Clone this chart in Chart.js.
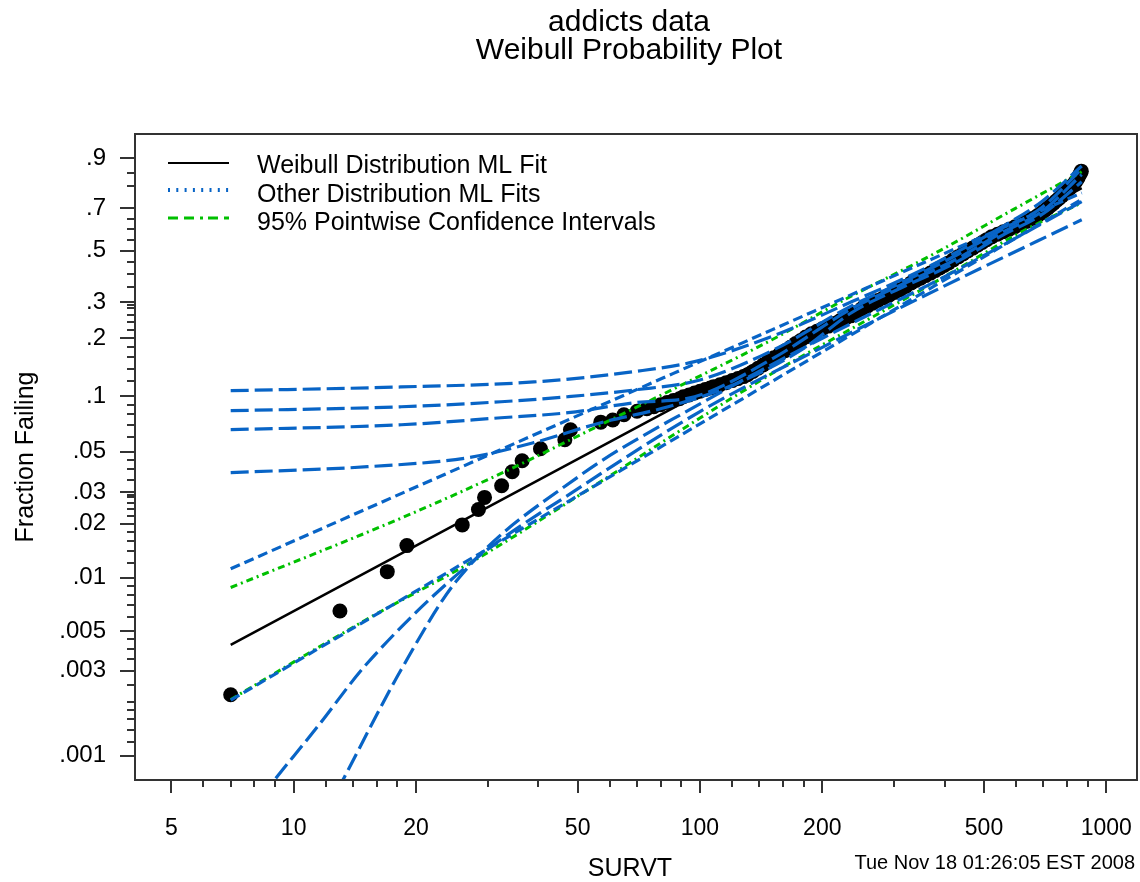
<!DOCTYPE html>
<html>
<head>
<meta charset="utf-8">
<script src="https://cdn.jsdelivr.net/npm/chart.js@4.4.1/dist/chart.umd.min.js"></script>
<style>
  html, body { margin: 0; padding: 0; background: #ffffff; }
  #wrap { width: 1140px; height: 882px; }
</style>
</head>
<body>
<div id="wrap"><canvas id="c" width="1140" height="882"></canvas></div>
<script>
// ---------------- texts ----------------
const titleLines = ['addicts data', 'Weibull Probability Plot'];
const xTitle = 'SURVT';
const yTitle = 'Fraction Failing';
const stamp = 'Tue Nov 18 01:26:05 EST 2008';
const legendLabels = ['Weibull Distribution ML Fit', 'Other Distribution ML Fits', '95% Pointwise Confidence Intervals'];

// ---------------- axes ----------------
const xMajor = [5, 10, 20, 50, 100, 200, 500, 1000];
const xTickLabels = ['5', '10', '20', '50', '100', '200', '500', '1000'];
const xMinor = [6, 7, 8, 9, 12, 14, 16, 18, 30, 40, 60, 70, 80, 90, 120, 140, 160, 180, 300, 400, 600, 700, 800, 900];
const yMajor = [0.001, 0.003, 0.005, 0.01, 0.02, 0.03, 0.05, 0.1, 0.2, 0.3, 0.5, 0.7, 0.9];
const yTickLabels = ['.001', '.003', '.005', '.01', '.02', '.03', '.05', '.1', '.2', '.3', '.5', '.7', '.9'];
const yMinor = [0.0012, 0.0014, 0.0016, 0.0018, 0.002, 0.0025, 0.0035, 0.004, 0.0045,
  0.006, 0.007, 0.008, 0.009, 0.012, 0.014, 0.016, 0.018, 0.022, 0.024, 0.026, 0.028, 0.029,
  0.035, 0.04, 0.045, 0.06, 0.07, 0.08, 0.09, 0.12, 0.14, 0.16, 0.18, 0.22, 0.24, 0.26, 0.28, 0.29,
  0.35, 0.4, 0.45, 0.55, 0.6, 0.65, 0.8, 0.85];
const xMin = 4.07, xMax = 1190;
const yMin = 0.00073, yMax = 0.957;

// ---------------- data: failure times and fraction failing ----------------
const failT = [7, 13, 17, 19, 26, 28.5, 29.5, 32.5, 34.5, 36.5, 40.5, 46.5, 48, 57, 61, 65, 70,
  74, 77, 80, 83, 86, 89, 91, 94, 97, 100, 103, 106, 108, 112, 116, 120, 124, 128, 131,
  135, 139, 143, 147, 152, 157, 162, 167, 172, 177, 182, 188, 194, 200, 207, 214, 221, 228, 235, 242, 250,
  258, 266, 274, 283, 292, 301, 311, 321, 331, 340, 349, 359, 369, 379, 389, 399, 409,
  420, 432, 444, 456, 469, 482, 495, 508, 522, 540, 558, 577, 596, 616, 636, 657, 678, 693,
  705, 717, 729, 741, 753, 765, 777, 789, 801, 813, 825, 836, 845, 852, 858, 864, 868];
const failP = [0.0022, 0.0065, 0.0108, 0.0151, 0.0197, 0.024, 0.028, 0.0325, 0.0388, 0.0446, 0.0519, 0.0582, 0.0659, 0.0725, 0.0745, 0.0795, 0.083,
  0.0856, 0.0878, 0.0900, 0.0925, 0.0948, 0.0970, 0.0993, 0.1015, 0.1040, 0.1062, 0.1085, 0.1105, 0.1123, 0.1150, 0.1180, 0.1210, 0.1240, 0.1270, 0.1299,
  0.1350, 0.1405, 0.1460, 0.1520, 0.1590, 0.1660, 0.1730, 0.1800, 0.1880, 0.1950, 0.2030, 0.2106, 0.2170, 0.2230, 0.2300, 0.2370, 0.2440, 0.2510, 0.2580, 0.2680, 0.2790,
  0.2870, 0.2960, 0.3050, 0.3140, 0.3230, 0.3320, 0.3420, 0.3540, 0.3670, 0.3760, 0.3850, 0.3950, 0.4050, 0.4150, 0.4260, 0.4360, 0.4470,
  0.460, 0.473, 0.486, 0.499, 0.512, 0.525, 0.538, 0.551, 0.564, 0.576, 0.588, 0.600, 0.612, 0.624, 0.637, 0.651, 0.665, 0.678,
  0.689, 0.700, 0.711, 0.722, 0.734, 0.745, 0.756, 0.767, 0.778, 0.790, 0.801, 0.812, 0.822, 0.832, 0.842, 0.850, 0.857];

// Weibull ML fit
const fitT = [7, 100, 870];
const fitP = [0.0042, 0.1033, 0.79];

// 95% pointwise confidence intervals
const ciUpT = [7, 18.4, 32.4, 57, 97, 150, 227, 378, 596, 870];
const ciUpP = [0.0088, 0.0215, 0.0380, 0.0702, 0.124, 0.196, 0.308, 0.488, 0.698, 0.855];
const ciLoT = [7, 15, 28, 50, 100, 156, 250, 400, 629, 870];
const ciLoP = [0.00207, 0.00577, 0.01257, 0.0284, 0.0763, 0.138, 0.238, 0.391, 0.595, 0.725];

// other distribution ML fits
const otherA_T = [7, 18.4, 39, 69, 97, 152, 236, 313, 416, 552, 693, 870];
const otherA_P = [0.107, 0.112, 0.119, 0.135, 0.152, 0.206, 0.301, 0.379, 0.482, 0.61, 0.73, 0.875];
const otherB_T = [7, 18.4, 32.4, 47.4, 69, 100, 152, 236, 313, 416, 552, 693, 870];
const otherB_P = [0.0836, 0.0878, 0.0934, 0.0994, 0.108, 0.122, 0.175, 0.288, 0.368, 0.469, 0.597, 0.702, 0.865];
const otherC_T = [7, 18.4, 32.4, 47.4, 69, 97, 152, 236, 313, 416, 552, 693, 870];
const otherC_P = [0.066, 0.0702, 0.0766, 0.0816, 0.0923, 0.0994, 0.159, 0.279, 0.360, 0.452, 0.583, 0.683, 0.844];
const otherD_T = [7, 15.2, 26.9, 39, 57, 83.5, 121, 178, 236, 313, 416, 552, 693, 870];
const otherD_P = [0.0384, 0.0414, 0.0464, 0.0561, 0.0720, 0.0878, 0.115, 0.175, 0.267, 0.349, 0.439, 0.569, 0.669, 0.816];
const otherE_T = [7, 100, 870];
const otherE_P = [0.0112, 0.152, 0.77];
const otherF_T = [7, 100, 870];
const otherF_P = [0.00205, 0.071, 0.741];
const otherG_T = [7, 9.05, 11.46, 15.2, 27.9, 50, 100, 200, 400, 870];
const otherG_P = [0.00036, 0.00075, 0.00146, 0.00332, 0.0126, 0.0312, 0.0827, 0.180, 0.356, 0.645];
const otherH_T = [12, 13.3, 18.4, 25.3, 50, 100, 200, 400, 870];
const otherH_P = [0.00048, 0.00075, 0.00305, 0.00973, 0.0362, 0.091, 0.200, 0.391, 0.73];

// ---------------- styling ----------------
const FONT = "'Liberation Sans', Arial, Helvetica, sans-serif";
const BLUE = '#0864c6';
const GREEN = '#00c000';
const AXIS = '#333333';

Chart.defaults.font.family = FONT;
Chart.defaults.color = '#000000';

// Weibull probability scale: position = log(-log(1 - p))
const weib = p => Math.log(-Math.log(1 - p));
class WeibullScale extends Chart.Scale {
  static id = 'weibull';
  static defaults = {};
  parse(raw) { return (raw === null || raw === undefined) ? NaN : +raw; }
  determineDataLimits() { this.min = this.options.min; this.max = this.options.max; }
  buildTicks() { return yMajor.map(v => ({ value: v })); }
  getLabelForValue(v) { return String(v); }
  configure() {
    super.configure();
    this._wStart = weib(this.min);
    this._wRange = weib(this.max) - this._wStart;
  }
  getPixelForValue(v) { return this.getPixelForDecimal((weib(v) - this._wStart) / this._wRange); }
  getValueForPixel(px) {
    const w = this._wStart + this.getDecimalForPixel(px) * this._wRange;
    return 1 - Math.exp(-Math.exp(w));
  }
}
Chart.register(WeibullScale);

const pairs = (t, p) => t.map((v, i) => ({ x: v, y: p[i] }));

const blueLine = (t, p, dash) => ({
  data: pairs(t, p), showLine: true, pointRadius: 0, borderColor: BLUE, borderWidth: 3.2,
  borderDash: dash, cubicInterpolationMode: 'monotone', fill: false, order: 1
});
const greenLine = (t, p) => ({
  data: pairs(t, p), showLine: true, pointRadius: 0, borderColor: GREEN, borderWidth: 3,
  borderDash: [7, 4, 2, 4], cubicInterpolationMode: 'monotone', fill: false, order: 2
});

const datasets = [
  { data: pairs(failT, failP), showLine: false, pointRadius: 7.5, pointHoverRadius: 7.5,
    pointBackgroundColor: '#000', pointBorderColor: '#000', pointBorderWidth: 0, order: 4 },
  { data: pairs(fitT, fitP), showLine: true, pointRadius: 0, borderColor: '#000', borderWidth: 2.5, fill: false, order: 3 },
  greenLine(ciUpT, ciUpP),
  greenLine(ciLoT, ciLoP),
  blueLine(otherA_T, otherA_P, [18, 6]),
  blueLine(otherB_T, otherB_P, [18, 6]),
  blueLine(otherC_T, otherC_P, [18, 6]),
  blueLine(otherD_T, otherD_P, [18, 6]),
  blueLine(otherE_T, otherE_P, [10, 5]),
  blueLine(otherF_T, otherF_P, [10, 5]),
  blueLine(otherG_T, otherG_P, [18, 6]),
  blueLine(otherH_T, otherH_P, [18, 6])
];

const decor = {
  id: 'decor',
  afterDraw(chart) {
    const { ctx, chartArea: ca } = chart;
    const x = chart.scales.x, y = chart.scales.y;
    ctx.save();
    // minor ticks
    ctx.strokeStyle = AXIS; ctx.lineWidth = 2; ctx.setLineDash([]);
    ctx.beginPath();
    yMinor.forEach(p => { const py = Math.round(y.getPixelForValue(p)); ctx.moveTo(ca.left - 8, py); ctx.lineTo(ca.left, py); });
    xMinor.forEach(v => { const px = Math.round(x.getPixelForValue(v)); ctx.moveTo(px, ca.bottom); ctx.lineTo(px, ca.bottom + 7); });
    ctx.stroke();
    // frame
    ctx.strokeRect(ca.left, ca.top, ca.right - ca.left, ca.bottom - ca.top);

    ctx.fillStyle = '#000';
    // title
    ctx.textAlign = 'center'; ctx.textBaseline = 'alphabetic';
    ctx.font = `30px ${FONT}`;
    ctx.fillText(titleLines[0], 629, 31);
    ctx.fillText(titleLines[1], 629, 59);

    // legend
    const items = [
      { ly: 163, ty: 173, color: '#000', w: 2, dash: [] },
      { ly: 190, ty: 201.5, color: BLUE, w: 4, dash: [2, 6.3] },
      { ly: 218, ty: 230, color: GREEN, w: 3, dash: [10, 6, 10, 6, 3, 5] }
    ];
    ctx.font = `25px ${FONT}`; ctx.textAlign = 'left';
    items.forEach((it, i) => {
      ctx.save();
      ctx.strokeStyle = it.color; ctx.lineWidth = it.w; ctx.setLineDash(it.dash);
      ctx.beginPath(); ctx.moveTo(168, it.ly); ctx.lineTo(229, it.ly); ctx.stroke();
      ctx.restore();
      ctx.fillText(legendLabels[i], 257, it.ty);
    });

    // axis titles
    ctx.font = `25px ${FONT}`; ctx.textAlign = 'center';
    ctx.fillText(xTitle, 630, 876);
    ctx.save();
    ctx.translate(26, (ca.top + ca.bottom) / 2);
    ctx.rotate(-Math.PI / 2);
    ctx.font = `25px ${FONT}`; ctx.textBaseline = 'middle';
    ctx.fillText(yTitle, 0, 0);
    ctx.restore();

    // time stamp
    ctx.font = `20px ${FONT}`; ctx.textAlign = 'right'; ctx.textBaseline = 'alphabetic';
    ctx.fillText(stamp, 1135, 869);
    ctx.restore();
  }
};

new Chart(document.getElementById('c'), {
  type: 'scatter',
  data: { datasets },
  options: {
    responsive: false,
    devicePixelRatio: 1,
    animation: false,
    events: [],
    layout: { autoPadding: false, padding: { top: 134, right: 3, left: 0, bottom: 0 } },
    plugins: { legend: { display: false }, tooltip: { enabled: false }, title: { display: false } },
    scales: {
      x: {
        type: 'logarithmic', position: 'bottom', min: xMin, max: xMax,
        afterFit: s => { s.height = 102; s.paddingLeft = 0; s.paddingRight = 0; },
        afterBuildTicks: s => { s.ticks = xMajor.map(v => ({ value: v })); },
        grid: { display: true, drawOnChartArea: false, drawTicks: true, tickLength: 13, color: AXIS, lineWidth: 2 },
        border: { display: false },
        ticks: { autoSkip: false, maxRotation: 0, minRotation: 0, padding: 22, color: '#000',
          font: { family: FONT, size: 23 }, callback: (v, i) => xTickLabels[i] }
      },
      y: {
        type: 'weibull', position: 'left', min: yMin, max: yMax,
        afterFit: s => { s.width = 135; s.paddingTop = 0; s.paddingBottom = 0; },
        grid: { display: true, drawOnChartArea: false, drawTicks: true, tickLength: 15, color: AXIS, lineWidth: 2 },
        border: { display: false },
        ticks: { autoSkip: false, padding: 14, color: '#000',
          font: { family: FONT, size: 24 }, callback: (v, i) => yTickLabels[i] }
      }
    }
  },
  plugins: [decor]
});
</script>
</body>
</html>
